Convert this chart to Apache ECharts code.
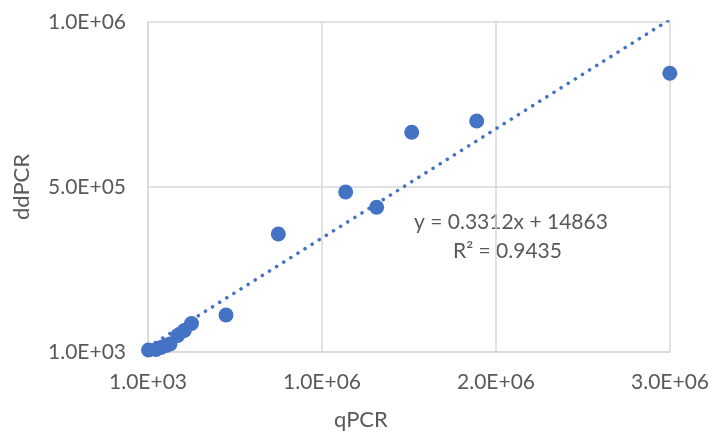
<!DOCTYPE html>
<html lang="en">
<head>
    <meta charset="UTF-8">
    <title>qPCR vs ddPCR</title>
    <script src="https://cdn.jsdelivr.net/npm/echarts@6/dist/echarts.min.js"></script>
    <style>
        html, body { margin: 0; padding: 0; background: #fff; }
    </style>
</head>
<body>
<div id="main" style="width: 727px;height:438px;"></div>
<script type="text/javascript">
    var qpcr  = [3900, 47000, 75700, 104400, 127400, 172000, 210000, 251000, 449300, 749900, 1137000, 1315000, 1516500, 1890000, 3000000];
    var ddpcr = [7000, 8600, 14600, 20700, 25200, 51000, 66000, 87400, 113100, 358600, 485800, 439500, 666800, 701000, 845500];

    var xTickLabels = ['1.0E+03', '1.0E+06', '2.0E+06', '3.0E+06'];
    var yTickLabels = ['1.0E+03', '5.0E+05', '1.0E+06'];

    // trendline as printed on the chart
    var trendSlope = 0.3312;
    var trendIntercept = 14863;
    var trendText = ['y = 0.3312x + 14863', 'R\u00b2 = 0.9435'];

    var points = qpcr.map(function (x, i) { return [x, ddpcr[i]]; });
    var xMin = Math.min.apply(null, qpcr);
    var xMax = Math.max.apply(null, qpcr);
    var trend = [
        [xMin, trendSlope * xMin + trendIntercept],
        [xMax, trendSlope * xMax + trendIntercept]
    ];

    var myChart = echarts.init(document.getElementById('main'));
    var labelFont = 'Lato, "Open Sans", sans-serif';

    var option = {
        animation: false,
        grid: { left: 148, right: 57, top: 22, bottom: 86 },
        xAxis: {
            type: 'value',
            min: 1000,
            max: 3001000,
            interval: 1000000,
            axisLine: { show: true, lineStyle: { color: '#d9d9d9', width: 1.5 } },
            axisTick: { show: false },
            splitLine: { show: true, lineStyle: { color: '#d9d9d9', width: 1.5 } },
            axisLabel: {
                color: '#595959', fontSize: 21, fontFamily: labelFont, margin: 20,
                formatter: function (v, i) { return xTickLabels[i]; }
            }
        },
        yAxis: {
            type: 'value',
            min: 1000,
            max: 1001000,
            interval: 500000,
            axisLine: { show: true, lineStyle: { color: '#d9d9d9', width: 1.5 } },
            axisTick: { show: false },
            splitLine: { show: true, lineStyle: { color: '#d9d9d9', width: 1.5 } },
            axisLabel: {
                color: '#595959', fontSize: 21, fontFamily: labelFont, margin: 22,
                formatter: function (v, i) { return yTickLabels[i]; }
            },
            name: 'ddPCR',
            nameLocation: 'middle',
            nameGap: 115,
            nameTextStyle: { color: '#595959', fontSize: 22, fontFamily: labelFont }
        },
        graphic: [
            {
                type: 'text', left: 334, top: 409,
                style: { text: 'qPCR', fill: '#595959', fontSize: 22, fontFamily: labelFont }
            },
            {
                type: 'text', left: 414, top: 212,
                style: { text: trendText[0], fill: '#595959', fontSize: 21, fontFamily: labelFont }
            },
            {
                type: 'text', left: 453, top: 241,
                style: { text: trendText[1], fill: '#595959', fontSize: 21, fontFamily: labelFont }
            }
        ],
        series: [
            {
                name: 'trend',
                type: 'line',
                data: trend,
                showSymbol: false,
                clip: true,
                lineStyle: { color: '#4472C4', width: 3.5, type: [0.1, 8.3], cap: 'round' },
                z: 1
            },
            {
                name: 'samples',
                type: 'scatter',
                data: points,
                symbolSize: 15,
                itemStyle: { color: '#4472C4', opacity: 1 },
                z: 2
            }
        ]
    };

    myChart.setOption(option);
</script>
</body>
</html>
